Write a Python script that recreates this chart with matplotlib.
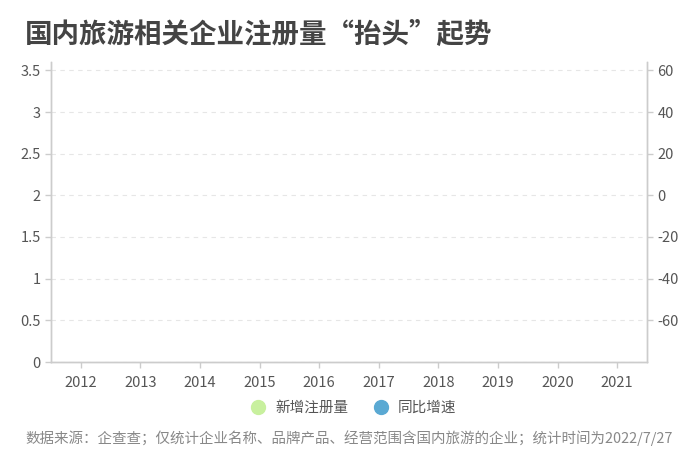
import numpy as np
import matplotlib
matplotlib.use('Agg')
import matplotlib.pyplot as plt
from matplotlib.lines import Line2D

plt.rcParams['font.family'] = ['Noto Sans CJK SC', 'DejaVu Sans']
plt.rcParams['axes.unicode_minus'] = False

# data: the reference shows the axes only, no marks are drawn
years = ['2012', '2013', '2014', '2015', '2016', '2017', '2018', '2019', '2020', '2021']
new_registrations = [None] * len(years)   # 新增注册量 (万家), not shown
yoy_growth = [None] * len(years)          # 同比增速 (%), not shown
left_ticks = [0, 0.5, 1, 1.5, 2, 2.5, 3, 3.5]
right_ticks = [-60, -40, -20, 0, 20, 40, 60]

bar_color = '#c8f09e'
line_color = '#5aa9d3'
axis_color = '#cccccc'
text_color = '#555555'

fig = plt.figure(figsize=(7, 4.7), dpi=100)
ax = fig.add_axes([51 / 700, 1 - 362 / 470, 596 / 700, 300 / 470])
ax2 = ax.twinx()

x = np.arange(len(years))
bars = np.array(new_registrations, dtype=float)
rates = np.array(yoy_growth, dtype=float)
ax.bar(x, bars, width=0.5, color=bar_color)
ax2.plot(x, rates, color=line_color, marker='o', linewidth=2)

ax.set_xlim(-0.5, len(years) - 0.5)
ax.set_ylim(0, 3.6)
ax2.set_ylim(-80, 64)
ax.set_xticks(x)
ax.set_xticklabels(years)
ax.set_yticks(left_ticks)
ax.set_yticklabels([f'{t:g}' for t in left_ticks])
ax2.set_yticks(right_ticks)

ax.grid(axis='y', color='#e6e6e6', linestyle=(0, (4, 4)), linewidth=0.8)
ax.set_axisbelow(True)

for a in (ax, ax2):
    a.spines['top'].set_visible(False)
    for s in ('left', 'right', 'bottom'):
        a.spines[s].set_color(axis_color)
        a.spines[s].set_linewidth(1)
    a.tick_params(colors=axis_color, labelcolor=text_color, labelsize=10.5, length=4, width=1)
ax.tick_params(axis='x', pad=6)

fig.text(25 / 700, 1 - 35 / 470, '国内旅游相关企业注册量“抬头”起势', fontsize=19.8,
         fontweight='bold', color='#444444', va='center', ha='left')

handles = [Line2D([], [], marker='o', linestyle='none', markersize=10,
                  markerfacecolor=bar_color, markeredgecolor=bar_color),
           Line2D([], [], marker='o', linestyle='none', markersize=10,
                  markerfacecolor=line_color, markeredgecolor=line_color)]
fig.legend(handles, ['新增注册量', '同比增速'], loc='center', ncol=2,
           bbox_to_anchor=(0.5, 1 - 408 / 470), frameon=False, fontsize=10.5,
           labelcolor=text_color, handletextpad=0.2, columnspacing=1.2)

fig.text(25 / 700, 1 - 438 / 470,
         '数据来源：企查查；仅统计企业名称、品牌产品、经营范围含国内旅游的企业；统计时间为2022/7/27',
         fontsize=10.45, color='#888888', va='center', ha='left')

fig.savefig('out.png', dpi=100)
